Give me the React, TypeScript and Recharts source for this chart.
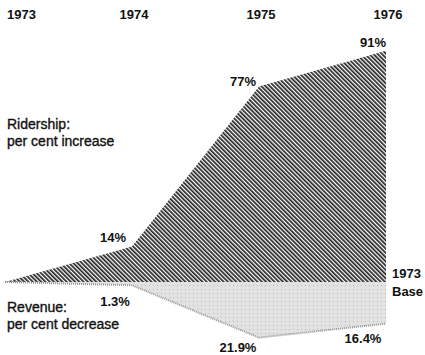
import React from 'react';
import { ComposedChart, Area, XAxis, YAxis, LabelList } from 'recharts';

const years = [1973, 1974, 1975, 1976];
const ridershipIncrease = [0, 14, 77, 91];
const revenueDecrease = [0, -1.3, -21.9, -16.4];
const ridershipLabels = ['', '14%', '77%', '91%'];
const revenueLabels = ['', '1.3%', '21.9%', '16.4%'];
const yearTickLabels = ['1973', '1974', '1975', '1976'];

const data = years.map((y, i) => ({
  year: y,
  ridership: ridershipIncrease[i],
  revenue: revenueDecrease[i],
  rLabel: ridershipLabels[i],
  vLabel: revenueLabels[i],
}));

const FONT = '"Liberation Sans", Arial, Helvetica, sans-serif';

const rOffsets = [[0, 0], [-19, -4], [-16, 0], [-13, -4]];
const vOffsets = [[0, 0], [-17, 21], [-21, 14], [-23, 19]];

const makeLabel = (labels: string[], offsets: number[][]) => (props: any) => {
  const { x, y, value } = props;
  const i = labels.indexOf(value);
  if (!value || i < 0) return null;
  return (
    <text
      x={x + offsets[i][0]}
      y={y + offsets[i][1]}
      textAnchor="middle"
      fontFamily={FONT}
      fontWeight="bold"
      fontSize={13}
      fill="#111"
    >
      {value}
    </text>
  );
};

const YearTick = (props: any) => {
  const { x, index } = props;
  return (
    <text
      x={x + 2}
      y={19}
      textAnchor={index === 0 ? 'start' : 'middle'}
      fontFamily={FONT}
      fontWeight="bold"
      fontSize={13}
      fill="#111"
    >
      {yearTickLabels[index]}
    </text>
  );
};

const txt = { fontFamily: FONT, fontSize: 14, fill: '#111', stroke: '#111', strokeWidth: 0.35 } as const;

export default function App() {
  return (
    <div style={{ position: 'absolute', left: 0, top: 0, background: '#fff' }}>
      <ComposedChart
        width={425}
        height={355}
        data={data}
        margin={{ top: 0, right: 39, bottom: 9.5, left: 5 }}
      >
        <defs>
          <pattern id="hatch" width="3" height="3" patternUnits="userSpaceOnUse" patternTransform="rotate(-45)">
            <rect width="3" height="3" fill="#fff" />
            <rect width="1.7" height="3" fill="#222" />
          </pattern>
          <pattern id="stipple" width="4" height="4" patternUnits="userSpaceOnUse">
            <rect width="4" height="4" fill="#e2e2e2" />
            <rect x="1" y="1" width="1" height="1" fill="#b8b8b8" />
          </pattern>
        </defs>
        <XAxis
          dataKey="year"
          type="number"
          domain={[1973, 1976]}
          ticks={years}
          orientation="top"
          height={28}
          axisLine={false}
          tickLine={false}
          tick={<YearTick />}
          interval={0}
        />
        <YAxis hide domain={[-25, 100]} type="number" />
        <Area
          type="linear"
          dataKey="ridership"
          baseValue={0}
          stroke="none"
          fill="url(#hatch)"
          fillOpacity={1}
          isAnimationActive={false}
          dot={false}
          activeDot={false}
        >
          <LabelList dataKey="rLabel" content={makeLabel(ridershipLabels, rOffsets)} />
        </Area>
        <Area
          type="linear"
          dataKey="revenue"
          baseValue={0}
          stroke="#999"
          strokeWidth={2}
          strokeDasharray="1 1"
          fill="url(#stipple)"
          fillOpacity={1}
          isAnimationActive={false}
          dot={false}
          activeDot={false}
        >
          <LabelList dataKey="vLabel" content={makeLabel(revenueLabels, vOffsets)} />
        </Area>
        <text x={7} y={129} {...txt}>Ridership:</text>
        <text x={7} y={146} {...txt}>per cent increase</text>
        <text x={7} y={312} {...txt}>Revenue:</text>
        <text x={7} y={329} {...txt}>per cent decrease</text>
        <text x={392} y={278} fontFamily={FONT} fontSize={13} fill="#111" fontWeight="bold">1973</text>
        <text x={392} y={296} fontFamily={FONT} fontSize={13} fill="#111" fontWeight="bold">Base</text>
      </ComposedChart>
    </div>
  );
}
